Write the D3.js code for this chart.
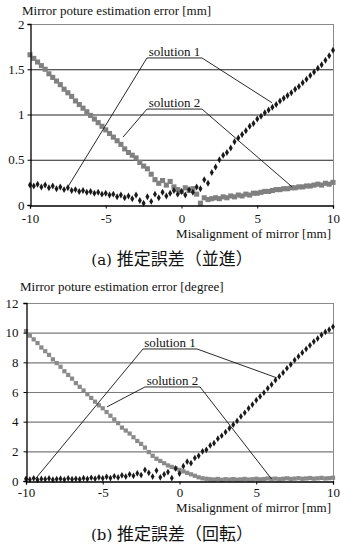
<!DOCTYPE html>
<html>
<head>
<meta charset="utf-8">
<script src="https://cdn.jsdelivr.net/npm/d3@7"></script>
<style>
  html, body { margin: 0; padding: 0; background: #fff; }
  svg { display: block; }
</style>
</head>
<body>
<svg id="chart" width="340" height="547"></svg>
<script>
// ---------- data ----------
const xValues = [
  -10, -9.75, -9.5, -9.25, -9, -8.75, -8.5, -8.25, -8, -7.75,
  -7.5, -7.25, -7, -6.75, -6.5, -6.25, -6, -5.75, -5.5, -5.25,
  -5, -4.75, -4.5, -4.25, -4, -3.75, -3.5, -3.25, -3, -2.75,
  -2.5, -2.25, -2, -1.75, -1.5, -1.25, -1, -0.75, -0.5, -0.25,
  0, 0.25, 0.5, 0.75, 1, 1.25, 1.5, 1.75, 2, 2.25,
  2.5, 2.75, 3, 3.25, 3.5, 3.75, 4, 4.25, 4.5, 4.75,
  5, 5.25, 5.5, 5.75, 6, 6.25, 6.5, 6.75, 7, 7.25,
  7.5, 7.75, 8, 8.25, 8.5, 8.75, 9, 9.25, 9.5, 9.75, 10
];

// (a) translation error [mm]
const transSolution1 = [
  0.22, 0.21, 0.23, 0.20, 0.22, 0.19, 0.21, 0.18, 0.20, 0.17,
  0.19, 0.16, 0.17, 0.15, 0.16, 0.14, 0.15, 0.13, 0.14, 0.12,
  0.13, 0.11, 0.12, 0.09, 0.11, 0.08, 0.10, 0.07, 0.11, 0.05,
  0.02, 0.09, 0.04, 0.12, 0.08, 0.14, 0.10, 0.13, 0.16, 0.12,
  0.15, 0.11, 0.17, 0.14, 0.20, 0.18, 0.28, 0.24, 0.36, 0.42,
  0.50, 0.55, 0.58, 0.63, 0.70, 0.74, 0.78, 0.82, 0.87, 0.90,
  0.95, 0.98, 1.02, 1.05, 1.08, 1.11, 1.15, 1.18, 1.21, 1.24,
  1.28, 1.31, 1.35, 1.39, 1.43, 1.47, 1.51, 1.55, 1.60, 1.65, 1.71
];
const transSolution2 = [
  1.66, 1.62, 1.58, 1.54, 1.50, 1.45, 1.41, 1.37, 1.33, 1.28,
  1.24, 1.20, 1.15, 1.11, 1.07, 1.03, 0.99, 0.95, 0.91, 0.87,
  0.83, 0.79, 0.75, 0.71, 0.67, 0.62, 0.58, 0.55, 0.52, 0.47,
  0.43, 0.40, 0.34, 0.28, 0.24, 0.27, 0.22, 0.26, 0.20, 0.17,
  0.15, 0.19, 0.16, 0.18, 0.12, 0.02, 0.08, 0.06, 0.07, 0.08,
  0.07, 0.09, 0.08, 0.10, 0.09, 0.11, 0.10, 0.12, 0.11, 0.13,
  0.13, 0.14, 0.15, 0.15, 0.16, 0.17, 0.17, 0.18, 0.18, 0.19,
  0.19, 0.20, 0.20, 0.21, 0.21, 0.22, 0.23, 0.22, 0.24, 0.23, 0.25
];

// (b) rotation error [degree]
const rotSolution1 = [
  0.15, 0.10, 0.18, 0.08, 0.14, 0.12, 0.17, 0.09, 0.13, 0.16,
  0.10, 0.18, 0.12, 0.15, 0.11, 0.19, 0.14, 0.22, 0.16, 0.25,
  0.18, 0.28, 0.20, 0.32, 0.24, 0.38, 0.30, 0.45, 0.35, 0.52,
  0.40, 0.75, 0.55, 0.30, 0.70, 0.25, 0.45, 0.60, 0.20, 0.85,
  0.50, 1.00, 1.30, 1.20, 1.55, 1.70, 2.00, 2.10, 2.40, 2.55,
  2.85, 3.05, 3.30, 3.55, 3.80, 4.05, 4.35, 4.60, 4.90, 5.15,
  5.45, 5.70, 5.95, 6.25, 6.50, 6.80, 7.05, 7.30, 7.60, 7.85,
  8.15, 8.40, 8.65, 8.90, 9.15, 9.40, 9.60, 9.85, 10.05, 10.20, 10.40
];
const rotSolution2 = [
  10.1, 9.8, 9.55, 9.3, 9.0, 8.75, 8.5, 8.2, 7.95, 7.7,
  7.4, 7.15, 6.9, 6.6, 6.35, 6.1, 5.85, 5.6, 5.35, 5.1,
  4.9, 4.65, 4.4, 4.15, 3.9, 3.6, 3.4, 3.2, 2.95, 2.7,
  2.5, 2.25, 1.95, 1.7, 1.5, 1.35, 1.2, 1.05, 0.95, 0.85,
  0.75, 0.65, 0.55, 0.45, 0.35, 0.25, 0.18, 0.15, 0.12, 0.10,
  0.14, 0.08, 0.12, 0.10, 0.13, 0.09, 0.11, 0.14, 0.10, 0.12,
  0.15, 0.11, 0.13, 0.17, 0.14, 0.16, 0.12, 0.15, 0.18, 0.14,
  0.16, 0.19, 0.15, 0.17, 0.20, 0.16, 0.18, 0.21, 0.17, 0.19, 0.22
];

const xTicks = [-10, -5, 0, 5, 10];
const transTicks = [0, 0.5, 1, 1.5, 2];
const rotTicks = [0, 2, 4, 6, 8, 10, 12];
const seriesNames = ["solution 1", "solution 2"];

// annotation anchors in data units
const transNotes = [
  { name: seriesNames[0], x0: -2.28, x1: 1.35, y: 1.625, lx: -7.5, ly: 0.2, rx: 5.97, ry: 1.13 },
  { name: seriesNames[1], x0: -2.28, x1: 1.35, y: 1.06, lx: -3.86, ly: 0.75, rx: 7.3, ry: 0.2 }
];
const rotNotes = [
  { name: seriesNames[0], x0: -2.38, x1: 1.14, y: 8.9, lx: -9.4, ly: 0.13, rx: 6.35, ry: 6.95 },
  { name: seriesNames[1], x0: -2.25, x1: 1.34, y: 6.34, lx: -4.72, ly: 5.0, rx: 6.0, ry: 0.13 }
];

// ---------- drawing ----------
const SERIF = '"Liberation Serif", "Times New Roman", serif';
const svg = d3.select("#chart");

function drawPanel(cfg) {
  const g = svg.append("g");
  const x = d3.scaleLinear().domain([-10, 10]).range([cfg.left, cfg.right]);
  const y = d3.scaleLinear().domain([0, cfg.yMax]).range([cfg.bottom, cfg.top]);

  // grid lines
  g.append("g").selectAll("line")
    .data(cfg.yTicks.filter(t => t > 0 && t < cfg.yMax))
    .join("line")
    .attr("x1", cfg.left).attr("x2", cfg.right)
    .attr("y1", d => y(d) + 0.5).attr("y2", d => y(d) + 0.5)
    .attr("stroke", cfg.gridColor).attr("stroke-width", 1.2);

  // top & right frame
  g.append("line").attr("x1", cfg.left).attr("x2", cfg.right)
    .attr("y1", y(cfg.yMax) + 0.5).attr("y2", y(cfg.yMax) + 0.5)
    .attr("stroke", "#8a8a8a").attr("stroke-width", 1);
  g.append("line").attr("x1", cfg.right + 0.5).attr("x2", cfg.right + 0.5)
    .attr("y1", y(cfg.yMax)).attr("y2", y(0))
    .attr("stroke", "#8a8a8a").attr("stroke-width", 1);

  // markers
  const sq = d3.symbol().type(d3.symbolSquare).size(cfg.squareSize);
  const dm = d3.symbol().type(d3.symbolDiamond).size(cfg.diamondSize);
  g.append("g").selectAll("path")
    .data(xValues.map((v, i) => [v, cfg.s2[i]]))
    .join("path")
    .attr("d", sq)
    .attr("transform", d => `translate(${x(d[0])},${y(d[1])})`)
    .attr("fill", cfg.grayColor);
  g.append("g").selectAll("path")
    .data(xValues.map((v, i) => [v, cfg.s1[i]]))
    .join("path")
    .attr("d", dm)
    .attr("transform", d => `translate(${x(d[0])},${y(d[1])})`)
    .attr("fill", "#1a1a1a");

  // axes
  const yAxis = d3.axisLeft(y).tickValues(cfg.yTicks).tickSize(3).tickPadding(cfg.yPad)
    .tickFormat(d => String(d));
  const ya = g.append("g").attr("transform", `translate(${cfg.left + 0.5},0)`).call(yAxis);
  const xAxis = d3.axisBottom(x).tickValues(xTicks).tickSize(3).tickPadding(cfg.xPad)
    .tickFormat(d => String(d));
  const xa = g.append("g").attr("transform", `translate(0,${cfg.bottom + 0.5})`).call(xAxis);
  [ya, xa].forEach(a => {
    a.attr("font-family", null).attr("font-size", null);
    a.select(".domain").attr("stroke", "#000").attr("stroke-width", 1.3);
    a.selectAll(".tick line").attr("stroke", "#000");
    a.selectAll("text").style("font-family", SERIF).style("font-size", "13px").attr("fill", "#111");
  });

  // annotations
  cfg.notes.forEach(n => {
    const a = g.append("g");
    a.append("polyline")
      .attr("points", [[x(n.lx), y(n.ly)], [x(n.x0), y(n.y)], [x(n.x1), y(n.y)], [x(n.rx), y(n.ry)]].map(p => p.join(",")).join(" "))
      .attr("fill", "none").attr("stroke", "#111").attr("stroke-width", 0.9);
    a.append("text")
      .attr("x", (x(n.x0) + x(n.x1)) / 2).attr("y", y(n.y) - 2)
      .attr("text-anchor", "middle")
      .style("font-family", SERIF).style("font-size", "13px").attr("fill", "#111")
      .text(n.name);
  });

  // titles
  g.append("text").attr("x", cfg.titleX).attr("y", cfg.titleY)
    .style("font-family", SERIF).style("font-size", "13px").attr("fill", "#111").text(cfg.title);
  g.append("text").attr("x", cfg.right - 2).attr("y", cfg.xTitleY).attr("text-anchor", "end")
    .style("font-family", SERIF).style("font-size", "13px").attr("fill", "#111")
    .text("Misalignment of mirror [mm]");

  const cap = g.append("text").attr("x", cfg.capX).attr("y", cfg.capY).attr("text-anchor", "middle")
    .attr("fill", "#111");
  cap.append("tspan").style("font-family", '"DejaVu Serif", serif').style("font-size", "15px").text(cfg.capLatin + " ");
  cap.append("tspan").style("font-family", '"Noto Sans CJK JP", sans-serif').style("font-size", "17px").text(cfg.capCJK);
}

drawPanel({
  left: 30, right: 333, top: 24, bottom: 205, yMax: 2, yTicks: transTicks,
  s1: transSolution1, s2: transSolution2, notes: transNotes,
  gridColor: "#222", grayColor: "#808080", squareSize: 26, diamondSize: 14,
  yPad: 3, xPad: 5,
  title: "Mirror poture estimation error [mm]", titleX: 22, titleY: 15,
  xTitleY: 238, capX: 172, capY: 265, capLatin: "(a)", capCJK: "推定誤差（並進）"
});

drawPanel({
  left: 26, right: 333, top: 303, bottom: 481, yMax: 12, yTicks: rotTicks,
  s1: rotSolution1, s2: rotSolution2, notes: rotNotes,
  gridColor: "#7a7a7a", grayColor: "#8a8a8a", squareSize: 18, diamondSize: 13,
  yPad: 5, xPad: 3,
  title: "Mirror poture estimation error [degree]", titleX: 20, titleY: 291,
  xTitleY: 512, capX: 172, capY: 540, capLatin: "(b)", capCJK: "推定誤差（回転）"
});
</script>
</body>
</html>
